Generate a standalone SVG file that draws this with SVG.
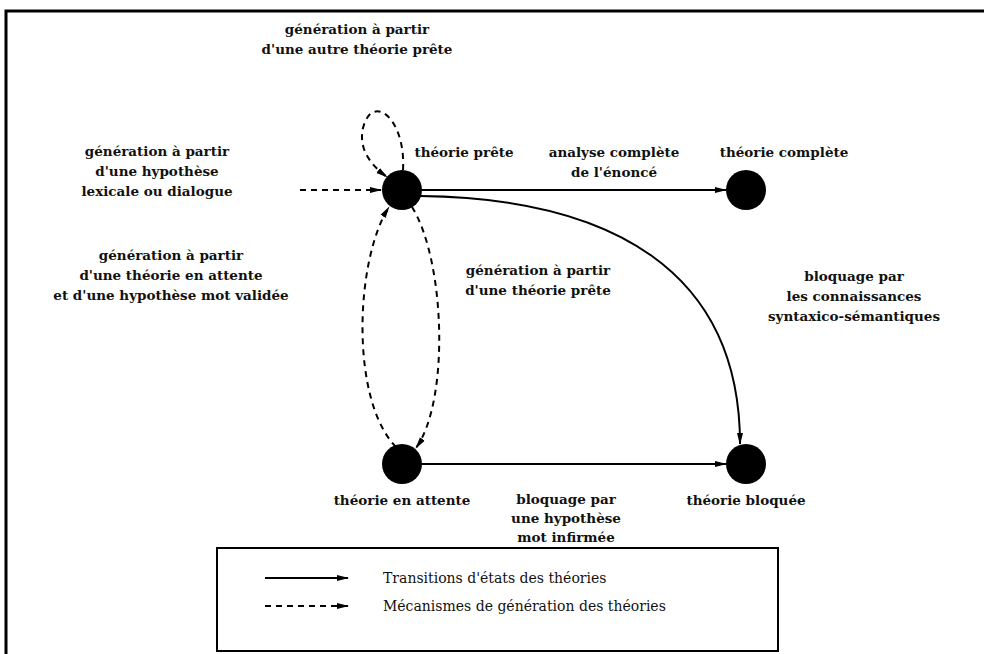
<svg xmlns="http://www.w3.org/2000/svg" width="984" height="654" viewBox="0 0 984 654">
<defs>
<style>
.lbl{font-family:"DejaVu Serif","Liberation Serif",serif;font-weight:bold;font-size:13.5px;fill:#111;text-anchor:middle}
.leg{font-family:"DejaVu Serif","Liberation Serif",serif;font-size:14px;fill:#111}
.node{fill:#000}
.solid{fill:none;stroke:#000;stroke-width:2}
.dash{fill:none;stroke:#000;stroke-width:2;stroke-dasharray:6,5}
</style>
<marker id="ah" viewBox="0 0 12 8" refX="11" refY="4" markerWidth="12" markerHeight="8" markerUnits="userSpaceOnUse" orient="auto">
<path d="M0,1 L12,4 L0,7 Z" fill="#000"/>
</marker>
</defs>
<rect width="984" height="654" fill="#fff"/>
<path d="M6,654 L6,11 L984,11" fill="none" stroke="#000" stroke-width="3"/>

<g id="connectors">
<path class="solid" d="M421,190 L726,190" marker-end="url(#ah)"/>
<path class="solid" d="M420,196 C610,198 740,270 740,444" marker-end="url(#ah)"/>
<path class="solid" d="M421,464 L726,464" marker-end="url(#ah)"/>
<path class="dash" d="M300,190 L381,190" marker-end="url(#ah)"/>
<path class="dash" d="M403,170 C406,118 372,92 363,128 C358,150 372,166 387,177" marker-end="url(#ah)"/>
<path class="dash" d="M396,447 C350,400 355,260 389,207" marker-end="url(#ah)"/>
<path class="dash" d="M412,207 C445,260 450,400 416,448" marker-end="url(#ah)"/>
</g>

<g id="n-prete"><circle class="node" cx="402" cy="190" r="20"/></g>
<g id="n-complete"><circle class="node" cx="746" cy="190" r="20"/></g>
<g id="n-attente"><circle class="node" cx="402" cy="464" r="20"/></g>
<g id="n-bloquee"><circle class="node" cx="746" cy="464" r="20"/></g>

<g id="labels">
<text class="lbl" x="357" y="34">génération à partir</text>
<text class="lbl" x="357" y="54">d'une autre théorie prête</text>
<text class="lbl" x="464" y="157">théorie prête</text>
<text class="lbl" x="157" y="156">génération à partir</text>
<text class="lbl" x="157" y="176">d'une hypothèse</text>
<text class="lbl" x="157" y="196">lexicale ou dialogue</text>
<text class="lbl" x="614" y="157">analyse complète</text>
<text class="lbl" x="614" y="177">de l'énoncé</text>
<text class="lbl" x="784" y="157">théorie complète</text>
<text class="lbl" x="171" y="260">génération à partir</text>
<text class="lbl" x="171" y="280">d'une théorie en attente</text>
<text class="lbl" x="171" y="300">et d'une hypothèse mot validée</text>
<text class="lbl" x="538" y="275">génération à partir</text>
<text class="lbl" x="538" y="295">d'une théorie prête</text>
<text class="lbl" x="854" y="281">bloquage par</text>
<text class="lbl" x="854" y="301">les connaissances</text>
<text class="lbl" x="854" y="321">syntaxico-sémantiques</text>
<text class="lbl" x="402" y="505">théorie en attente</text>
<text class="lbl" x="566" y="504">bloquage par</text>
<text class="lbl" x="566" y="523">une hypothèse</text>
<text class="lbl" x="566" y="542">mot infirmée</text>
<text class="lbl" x="746" y="505">théorie bloquée</text>
</g>

<g id="legend">
<rect x="217" y="548" width="561" height="103" fill="none" stroke="#000" stroke-width="2"/>
<path class="solid" d="M265,578 L348,578" stroke-width="1.5" marker-end="url(#ah)"/>
<path class="dash" d="M265,606 L348,606" stroke-width="1.5" stroke-dasharray="5,5" marker-end="url(#ah)"/>
<text class="leg" x="383" y="583">Transitions d'états des théories</text>
<text class="leg" x="383" y="611">Mécanismes de génération des théories</text>
</g>
</svg>
